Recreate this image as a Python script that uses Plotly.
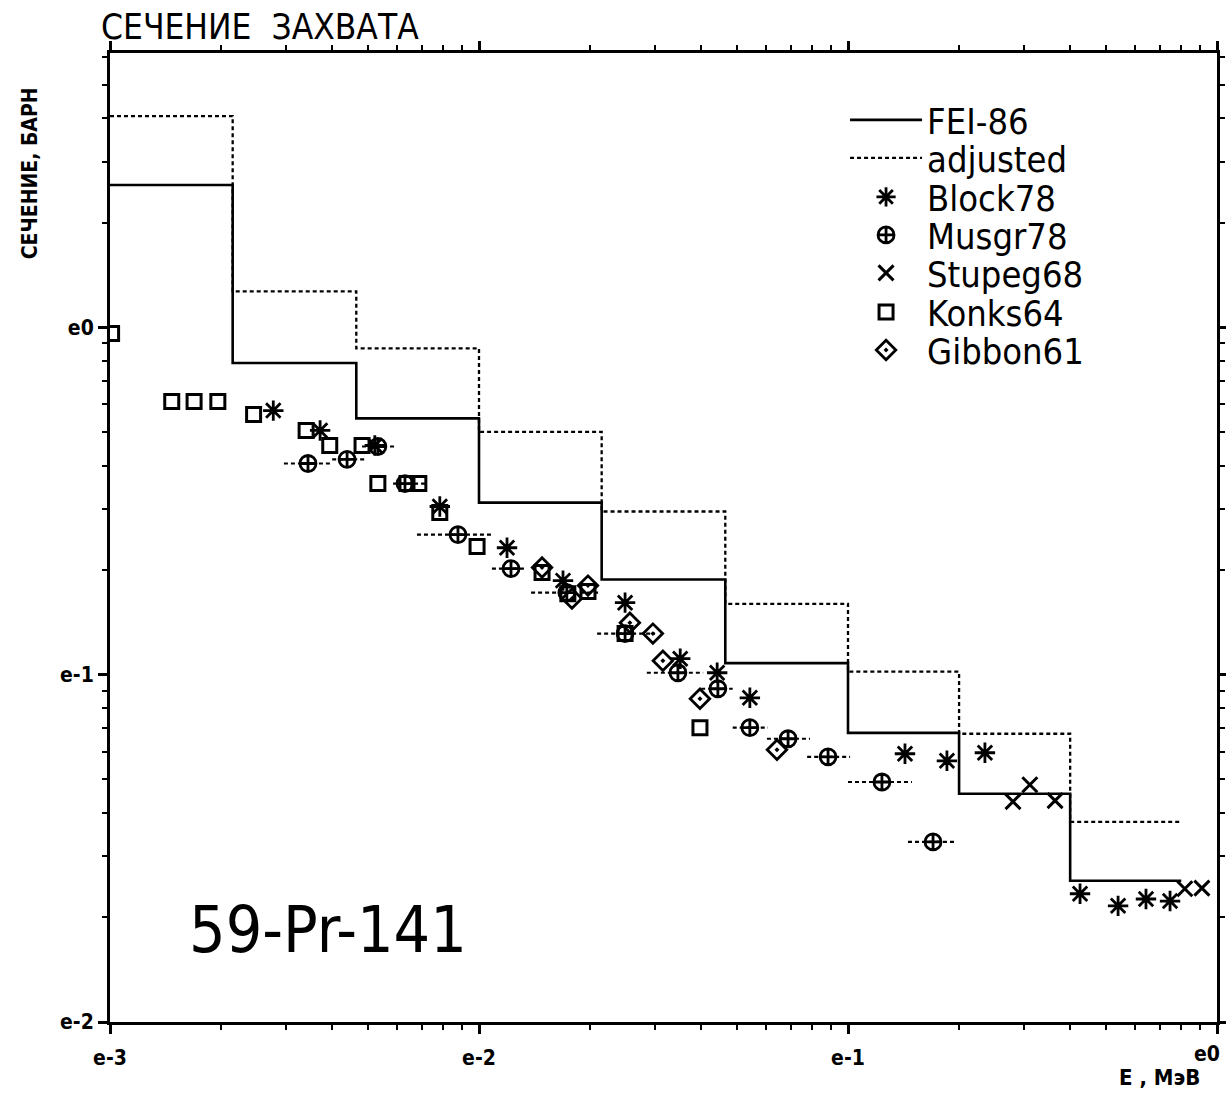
import plotly.graph_objects as go

# Group energy boundaries, MeV (ABBN-type structure)
edges = [0.001, 0.00215, 0.00465, 0.01, 0.0215, 0.0465, 0.1, 0.2, 0.4, 0.8]
# Group-averaged capture cross sections, barn
fei86 = [2.57, 0.79, 0.547, 0.313, 0.188, 0.108, 0.068, 0.0454, 0.0255]
adjusted = [4.06, 1.27, 0.87, 0.50, 0.295, 0.160, 0.102, 0.0676, 0.0377]

# Experimental data
block78_e = [0.00277, 0.00371, 0.00522, 0.00783, 0.01191, 0.01689, 0.02488, 0.0351,
             0.0442, 0.0542, 0.1427, 0.1854, 0.235, 0.4254, 0.5394, 0.642, 0.746]
block78_s = [0.576, 0.505, 0.457, 0.305, 0.232, 0.1866, 0.1612, 0.1112,
             0.1013, 0.0858, 0.0592, 0.0565, 0.0596, 0.0234, 0.0216, 0.0226, 0.0223]

musgr78_e = [0.00344, 0.00439, 0.00532, 0.0063, 0.00877, 0.01221, 0.0173, 0.02488,
             0.0346, 0.0444, 0.0542, 0.0688, 0.0883, 0.1236, 0.170]
musgr78_lo = [0.00296, 0.0040, 0.00482, 0.00585, 0.00679, 0.01084, 0.01384, 0.0209,
              0.0285, 0.0400, 0.0487, 0.0603, 0.0775, 0.100, 0.1454]
musgr78_hi = [0.0040, 0.0049, 0.00591, 0.00714, 0.01092, 0.01332, 0.0213, 0.0300,
              0.0405, 0.0487, 0.0607, 0.0789, 0.1013, 0.149, 0.1974]
musgr78_s = [0.4056, 0.417, 0.454, 0.355, 0.2532, 0.202, 0.1723, 0.1313,
             0.1013, 0.0911, 0.0704, 0.0654, 0.0580, 0.0491, 0.0330]

stupeg68_e = [0.280, 0.311, 0.364, 0.818, 0.910]
stupeg68_s = [0.0431, 0.0482, 0.0434, 0.0242, 0.0243]

konks64_e = [0.00101, 0.00147, 0.00169, 0.00196, 0.00245, 0.0034, 0.00394, 0.00482,
             0.00532, 0.00638, 0.00687, 0.00783, 0.00988, 0.01482, 0.01741, 0.01974,
             0.02488, 0.0397]
konks64_s = [0.961, 0.612, 0.612, 0.612, 0.561, 0.505, 0.457, 0.457,
             0.355, 0.355, 0.355, 0.293, 0.234, 0.197, 0.171, 0.1735,
             0.1313, 0.0704]

gibbon61_e = [0.01482, 0.01786, 0.01974, 0.02564, 0.0296, 0.0315, 0.0397, 0.0642]
gibbon61_s = [0.2034, 0.1656, 0.1805, 0.1412, 0.1313, 0.1097, 0.0853, 0.0608]

# The label of the last decade sits at the page edge and is placed separately
x_ticks = [0.001, 0.01, 0.1, 1.0]
x_labels = ["e-3", "e-2", "e-1", ""]
y_ticks = [0.01, 0.1, 1.0]
y_labels = ["e-2", "e-1", "e0"]

NARROW = "DejaVu Sans Condensed, Liberation Sans Narrow, Arial Narrow, sans-serif"
INK = "black"

fig = go.Figure()

# Step histograms: repeat the last value so the final group is drawn to its upper edge
fig.add_trace(go.Scatter(
    x=edges, y=fei86 + [fei86[-1]], mode="lines", line_shape="hv",
    line=dict(color=INK, width=2.6), name="FEI-86", legend="legend"))
fig.add_trace(go.Scatter(
    x=edges, y=adjusted + [adjusted[-1]], mode="lines", line_shape="hv",
    line=dict(color=INK, width=2.3, dash="4px,3px"), name="adjusted", legend="legend2"))

# Energy-resolution bars of the Musgrove data, drawn as dashed segments
bar_x, bar_y = [], []
for lo, hi, s in zip(musgr78_lo, musgr78_hi, musgr78_s):
    bar_x += [lo, hi, None]
    bar_y += [s, s, None]
fig.add_trace(go.Scatter(
    x=bar_x, y=bar_y, mode="lines", line=dict(color=INK, width=2.2, dash="4px,3px"),
    showlegend=False, hoverinfo="skip"))

marker_line = dict(color=INK, width=2.8)
fig.add_trace(go.Scatter(
    x=block78_e, y=block78_s, mode="markers", name="Block78", legend="legend3",
    marker=dict(symbol="asterisk-open", size=17, color=INK, line=marker_line)))
fig.add_trace(go.Scatter(
    x=musgr78_e, y=musgr78_s, mode="markers", name="Musgr78", legend="legend4",
    marker=dict(symbol="circle-cross-open", size=16, color=INK, line=marker_line)))
fig.add_trace(go.Scatter(
    x=stupeg68_e, y=stupeg68_s, mode="markers", name="Stupeg68", legend="legend5",
    marker=dict(symbol="x-thin-open", size=15, color=INK, line=dict(color=INK, width=3))))
fig.add_trace(go.Scatter(
    x=konks64_e, y=konks64_s, mode="markers", name="Konks64", legend="legend6",
    marker=dict(symbol="square-open", size=14, color=INK, line=dict(color=INK, width=3))))
fig.add_trace(go.Scatter(
    x=gibbon61_e, y=gibbon61_s, mode="markers", name="Gibbon61", legend="legend7",
    marker=dict(symbol="diamond-open-dot", size=15, color=INK, line=marker_line)))

minor_x = [m * 10.0 ** e for e in range(-3, 0) for m in range(2, 10)]
minor_y = [m * 10.0 ** e for e in range(-2, 1) for m in range(2, 10)]

axis_common = dict(
    type="log", showgrid=False, zeroline=False, showline=True, linecolor=INK,
    linewidth=3, mirror="ticks", ticks="outside", ticklen=9, tickwidth=2.5,
    tickcolor=INK, tickmode="array", automargin=False,
    tickfont=dict(family=NARROW, size=21, color=INK, weight="bold"),
)

fig.update_xaxes(
    **axis_common, range=[-3, 0], tickvals=x_ticks, ticktext=x_labels,
    ticklabelstandoff=6,
    minor=dict(tickmode="array", tickvals=minor_x, ticks="outside", ticklen=5,
               tickwidth=2, tickcolor=INK, showgrid=False),
)
fig.update_yaxes(
    **axis_common, range=[-2, 0.79], tickvals=y_ticks, ticktext=y_labels,
    minor=dict(tickmode="array", tickvals=minor_y, ticks="outside", ticklen=5,
               tickwidth=2, tickcolor=INK, showgrid=False),
)

# One legend per entry so the rows sit at a fixed pitch
legend_rows = [0.9309, 0.8916, 0.8514, 0.8122, 0.7730, 0.7327, 0.6935]
legend_layout = {}
for i, yrow in enumerate(legend_rows):
    key = "legend" if i == 0 else f"legend{i + 1}"
    legend_layout[key] = dict(
        x=0.664, y=yrow, xanchor="left", yanchor="middle",
        bgcolor="rgba(0,0,0,0)", borderwidth=0, itemwidth=72,
        font=dict(family=NARROW, size=36, color=INK),
    )

fig.update_layout(
    width=1226, height=1093,
    margin=dict(l=110, r=9, t=53, b=71),
    paper_bgcolor="white", plot_bgcolor="white",
    font=dict(family=NARROW, color=INK),
    showlegend=True,
    **legend_layout,
    annotations=[
        dict(text="СЕЧЕНИЕ  ЗАХВАТА", xref="paper", yref="paper",
             x=-0.01, y=1.0, xanchor="left", yanchor="bottom", yshift=4,
             showarrow=False, font=dict(family=NARROW, size=35, color=INK)),
        dict(text="СЕЧЕНИЕ, БАРН", xref="paper", yref="paper",
             x=-0.072, y=0.967, xanchor="center", yanchor="top", textangle=-90,
             showarrow=False, font=dict(family=NARROW, size=21, color=INK, weight="bold")),
        dict(text="e0", xref="paper", yref="paper",
             x=1.0, y=-0.033, xanchor="right", yanchor="middle", xshift=5,
             showarrow=False, font=dict(family=NARROW, size=21, color=INK, weight="bold")),
        dict(text="E , МэВ", xref="paper", yref="paper",
             x=0.948, y=-0.057, xanchor="center", yanchor="middle",
             showarrow=False, font=dict(family=NARROW, size=22, color=INK, weight="bold")),
        dict(text="59-Pr-141", xref="paper", yref="paper",
             x=0.07, y=0.095, xanchor="left", yanchor="middle",
             showarrow=False, font=dict(family=NARROW, size=64, color=INK)),
    ],
)

fig.write_html("out.html")
